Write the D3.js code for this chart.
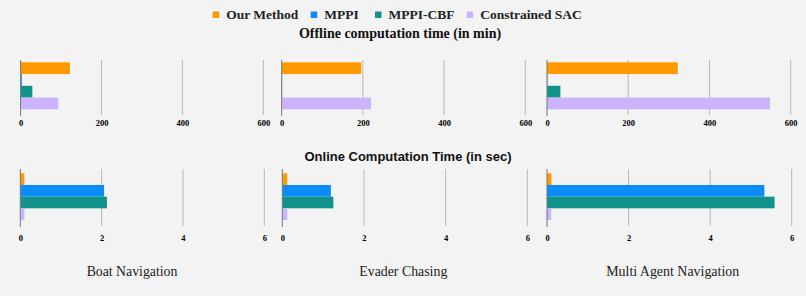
<!DOCTYPE html>
<html><head><meta charset="utf-8">
<script src="https://cdn.jsdelivr.net/npm/d3@7"></script>
<style>html,body{margin:0;padding:0;background:#f3f3f3;}svg{display:block;}</style>
</head><body>
<svg id="c" width="806" height="296"></svg>
<script>
const categories = ["Boat Navigation", "Evader Chasing", "Multi Agent Navigation"];
const seriesNames = ["Our Method", "MPPI", "MPPI-CBF", "Constrained SAC"];
const colors = ["#ff9900", "#0b8cf8", "#10938a", "#cbb3fd"];
// Offline computation time (min)
const offlineOurMethod = [122, 196, 322];
const offlineMPPI = [3, 1, 1];
const offlineMPPICBF = [29, 1, 33];
const offlineSAC = [93, 220, 549];
// Online computation time (sec)
const onlineOurMethod = [0.10, 0.12, 0.11];
const onlineMPPI = [2.06, 1.19, 5.33];
const onlineMPPICBF = [2.13, 1.25, 5.58];
const onlineSAC = [0.10, 0.12, 0.10];
const offlineTicks = [0, 200, 400, 600];
const onlineTicks = [0, 2, 4, 6];

const offline = [offlineOurMethod, offlineMPPI, offlineMPPICBF, offlineSAC];
const online = [onlineOurMethod, onlineMPPI, onlineMPPICBF, onlineSAC];

const SERIF = "'Liberation Serif', 'Times New Roman', serif";
const SANS = "'Liberation Sans', Arial, sans-serif";

const svg = d3.select("#c");
svg.append("rect").attr("width", 806).attr("height", 296).attr("fill", "#f3f3f3");

// legend
const legX = [212.7, 310.7, 375, 466.7];
const leg = svg.append("g");
seriesNames.forEach((s, i) => {
  leg.append("rect").attr("x", legX[i]).attr("y", 11.5).attr("width", 6.5).attr("height", 6.5).attr("fill", colors[i]);
  leg.append("text").attr("x", legX[i] + 13.5).attr("y", 19)
    .attr("font-family", SERIF).attr("font-weight", "bold")
    .attr("font-size", 13.5).attr("fill", "#222").text(s);
});

svg.append("text").attr("x", 400).attr("y", 38).attr("text-anchor", "middle")
  .attr("font-family", SERIF).attr("font-weight", "bold")
  .attr("font-size", 14).attr("fill", "#111").text("Offline computation time (in min)");
svg.append("text").attr("x", 408).attr("y", 161).attr("text-anchor", "middle")
  .attr("font-family", SANS).attr("font-weight", "bold")
  .attr("font-size", 13).attr("fill", "#111").text("Online Computation Time (in sec)");

const topRanges = [[20.6, 263.3], [281.7, 525.3], [547, 790.7]];
const botRanges = [[20.3, 264.3], [282.3, 527.3], [547, 791.7]];

function panel(range, domainMax, ticks, data, ci, plotTop, plotBot, barTop, barBot, tickY) {
  const x = d3.scaleLinear().domain([0, domainMax]).range(range);
  const y = d3.scaleBand().domain(seriesNames).range([barTop, barBot]).paddingInner(0).paddingOuter(0);
  const g = svg.append("g");
  g.selectAll("line.grid").data(ticks.slice(1)).join("line")
    .attr("x1", d => x(d)).attr("x2", d => x(d)).attr("y1", plotTop).attr("y2", plotBot)
    .attr("stroke", "#b8b8b8").attr("stroke-width", 1);
  g.selectAll("rect.bar").data(seriesNames).join("rect")
    .attr("x", x(0)).attr("y", s => y(s))
    .attr("width", (s, i) => x(data[i][ci]) - x(0)).attr("height", y.bandwidth())
    .attr("fill", (s, i) => colors[i]);
  g.append("line").attr("x1", x(0)).attr("x2", x(0)).attr("y1", plotTop).attr("y2", plotBot + 1)
    .attr("stroke", "#777").attr("stroke-width", 1);
  const ax = d3.axisBottom(x).tickValues(ticks).tickSize(0).tickPadding(0).tickFormat(d3.format("d"));
  const ag = g.append("g").attr("transform", `translate(0,${tickY})`).call(ax);
  ag.select(".domain").remove();
  ag.attr("font-family", SERIF);
  ag.selectAll("text").attr("font-family", SERIF)
    .attr("font-weight", "bold").attr("font-size", 8.5).attr("fill", "#000").attr("dy", "0");
}

categories.forEach((c, ci) => {
  panel(topRanges[ci], 600, offlineTicks, offline, ci, 60, 115, 62.3, 109.3, 126.3);
  panel(botRanges[ci], 6, onlineTicks, online, ci, 169, 226, 173.3, 220, 240.7);
});

const catX = [132, 403.3, 672.7];
const catW = [90.7, 88, 133];
categories.forEach((c, i) => {
  svg.append("text").attr("x", catX[i] - catW[i] / 2).attr("y", 275.5)
    .attr("font-family", SERIF).attr("font-size", 15)
    .attr("textLength", catW[i]).attr("lengthAdjust", "spacingAndGlyphs")
    .attr("fill", "#222").text(c);
});
</script>
</body></html>
